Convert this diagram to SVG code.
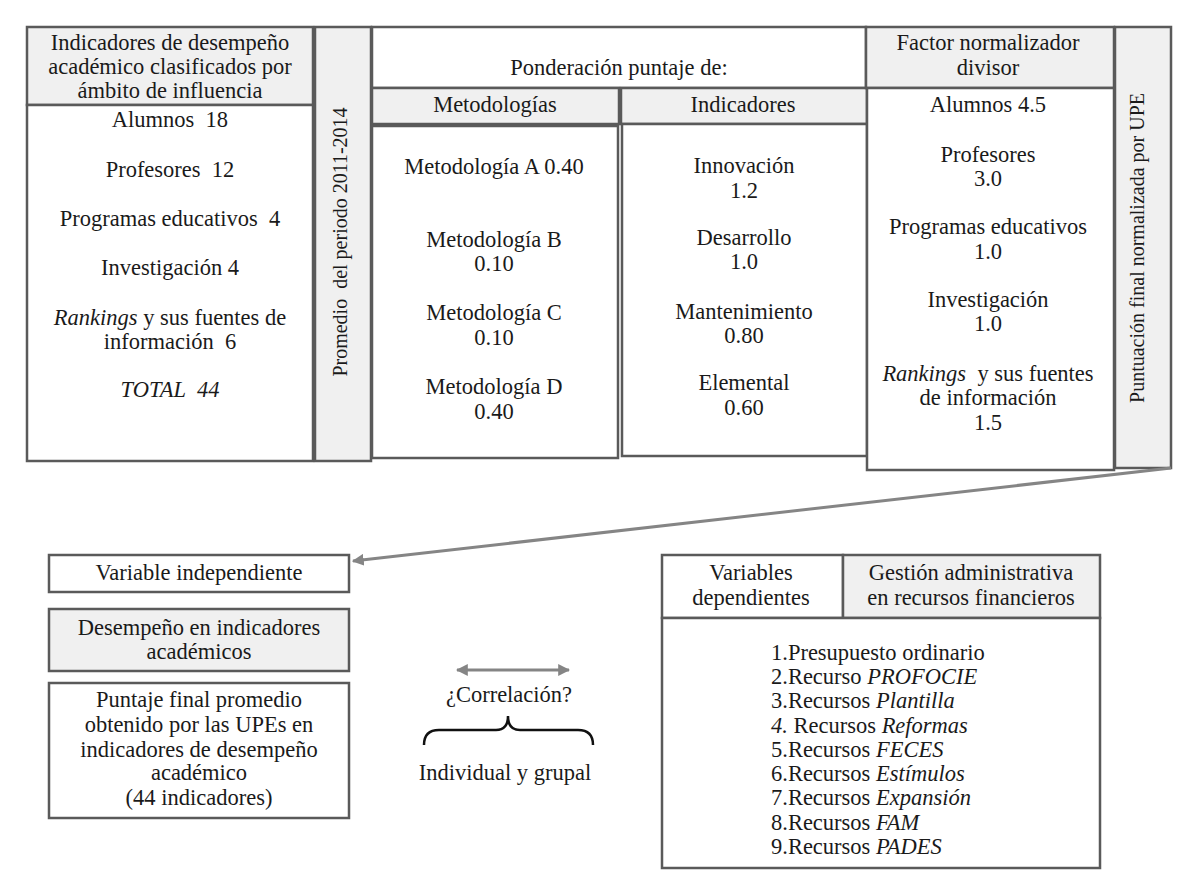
<svg xmlns="http://www.w3.org/2000/svg" width="1192" height="884" viewBox="0 0 1192 884" font-family="'Liberation Serif', 'DejaVu Serif', serif">
<defs>
<style>
.b{fill:#ffffff;stroke:#5a5a5a;stroke-width:2.5}
.g{fill:#f0f0f0;stroke:#5a5a5a;stroke-width:2.5}
text{font-family:'Liberation Serif','DejaVu Serif',serif;font-size:22.5px;fill:#1a1a1a;text-anchor:middle}
.l{text-anchor:start}
.i{font-style:italic}
.v{font-size:20px}
.conn{stroke:#858585;stroke-width:3;fill:none}
</style>
<marker id="ah" viewBox="0 0 10 10" refX="9" refY="5" markerWidth="4" markerHeight="4" orient="auto-start-reverse">
<path d="M0,0 L10,5 L0,10 z" fill="#858585"/>
</marker>
</defs>
<rect width="1192" height="884" fill="#ffffff"/>

<g id="indicadores">
<rect class="g" x="27" y="27" width="286" height="78"/>
<rect class="b" x="27" y="105" width="286" height="356"/>
<text x="170" y="50">Indicadores de desempeño</text>
<text x="170" y="74">académico clasificados por</text>
<text x="170" y="98">ámbito de influencia</text>
<text x="170" y="127">Alumnos &#160;18</text>
<text x="170" y="177">Profesores &#160;12</text>
<text x="170" y="226">Programas educativos &#160;4</text>
<text x="170" y="275">Investigación 4</text>
<text x="170" y="325"><tspan class="i">Rankings</tspan> y sus fuentes de</text>
<text x="170" y="349">información &#160;6</text>
<text x="170" y="397" class="i">TOTAL &#160;44</text>
</g>

<g id="promedio">
<rect class="g" x="315" y="27" width="56" height="434"/>
<text class="v" transform="translate(347,242) rotate(-90)">Promedio &#160;del periodo 2011-2014</text>
</g>

<g id="ponderacion">
<rect class="b" x="372" y="27" width="494" height="61"/>
<text x="619" y="75">Ponderación puntaje de:</text>
</g>

<g id="metodologias">
<rect class="g" x="372" y="88" width="247" height="36"/>
<rect class="b" x="372" y="126" width="246" height="332"/>
<text x="495" y="112">Metodologías</text>
<text x="494" y="174">Metodología A 0.40</text>
<text x="494" y="247">Metodología B</text>
<text x="494" y="271">0.10</text>
<text x="494" y="320">Metodología C</text>
<text x="494" y="345">0.10</text>
<text x="494" y="394">Metodología D</text>
<text x="494" y="419">0.40</text>
</g>

<g id="indicadores2">
<rect class="g" x="621" y="88" width="246" height="36"/>
<rect class="b" x="622" y="124" width="245" height="332"/>
<text x="743" y="112">Indicadores</text>
<text x="744" y="173">Innovación</text>
<text x="744" y="198">1.2</text>
<text x="744" y="245">Desarrollo</text>
<text x="744" y="269">1.0</text>
<text x="744" y="319">Mantenimiento</text>
<text x="744" y="343">0.80</text>
<text x="744" y="390">Elemental</text>
<text x="744" y="415">0.60</text>
</g>

<g id="factor">
<rect class="g" x="866" y="27" width="248" height="61"/>
<rect class="b" x="867" y="88" width="247" height="382"/>
<text x="988" y="50">Factor normalizador</text>
<text x="988" y="75">divisor</text>
<text x="988" y="112">Alumnos 4.5</text>
<text x="988" y="162">Profesores</text>
<text x="988" y="186">3.0</text>
<text x="988" y="234">Programas educativos</text>
<text x="988" y="259">1.0</text>
<text x="988" y="307">Investigación</text>
<text x="988" y="331">1.0</text>
<text x="988" y="381"><tspan class="i">Rankings</tspan> &#160;y sus fuentes</text>
<text x="988" y="405">de información</text>
<text x="988" y="430">1.5</text>
</g>

<g id="puntuacion">
<rect class="g" x="1115" y="27" width="56" height="441"/>
<text class="v" transform="translate(1144,248) rotate(-90)">Puntuación final normalizada por UPE</text>
</g>

<g id="connectors">
<line class="conn" x1="1171" y1="468" x2="353" y2="561" marker-end="url(#ah)"/>
<line class="conn" x1="457" y1="670" x2="569" y2="670" marker-start="url(#ah)" marker-end="url(#ah)"/>
<path d="M424,745 Q424,730 439,730 L496,730 Q508,730 508,716 Q508,730 520,730 L578,730 Q593,730 593,745" fill="none" stroke="#111111" stroke-width="2.5"/>
</g>

<g id="correlacion">
<text x="509" y="702">¿Correlación?</text>
<text x="505" y="780">Individual y grupal</text>
</g>

<g id="var-independiente">
<rect class="b" x="49" y="555" width="300" height="37"/>
<text x="199" y="580">Variable independiente</text>
</g>

<g id="desempeno">
<rect class="g" x="49" y="609" width="300" height="62"/>
<text x="199" y="635">Desempeño en indicadores</text>
<text x="199" y="659">académicos</text>
</g>

<g id="puntaje">
<rect class="b" x="49" y="683" width="300" height="135"/>
<text x="199" y="707">Puntaje final promedio</text>
<text x="199" y="732">obtenido por las UPEs en</text>
<text x="199" y="757">indicadores de desempeño</text>
<text x="199" y="780">académico</text>
<text x="199" y="805">(44 indicadores)</text>
</g>

<g id="var-dependientes">
<rect class="b" x="662" y="555" width="181" height="63"/>
<rect class="g" x="843" y="555" width="257" height="63"/>
<rect class="b" x="662" y="618" width="438" height="250"/>
<text x="751" y="580">Variables</text>
<text x="751" y="605">dependientes</text>
<text x="971" y="580">Gestión administrativa</text>
<text x="971" y="605">en recursos financieros</text>
<text class="l" x="771" y="660">1.Presupuesto ordinario</text>
<text class="l" x="771" y="684">2.Recurso <tspan class="i">PROFOCIE</tspan></text>
<text class="l" x="771" y="708">3.Recursos <tspan class="i">Plantilla</tspan></text>
<text class="l" x="771" y="733"><tspan class="i">4.</tspan> Recursos <tspan class="i">Reformas</tspan></text>
<text class="l" x="771" y="757">5.Recursos <tspan class="i">FECES</tspan></text>
<text class="l" x="771" y="781">6.Recursos <tspan class="i">Estímulos</tspan></text>
<text class="l" x="771" y="805">7.Recursos <tspan class="i">Expansión</tspan></text>
<text class="l" x="771" y="830">8.Recursos <tspan class="i">FAM</tspan></text>
<text class="l" x="771" y="854">9.Recursos <tspan class="i">PADES</tspan></text>
</g>
</svg>
